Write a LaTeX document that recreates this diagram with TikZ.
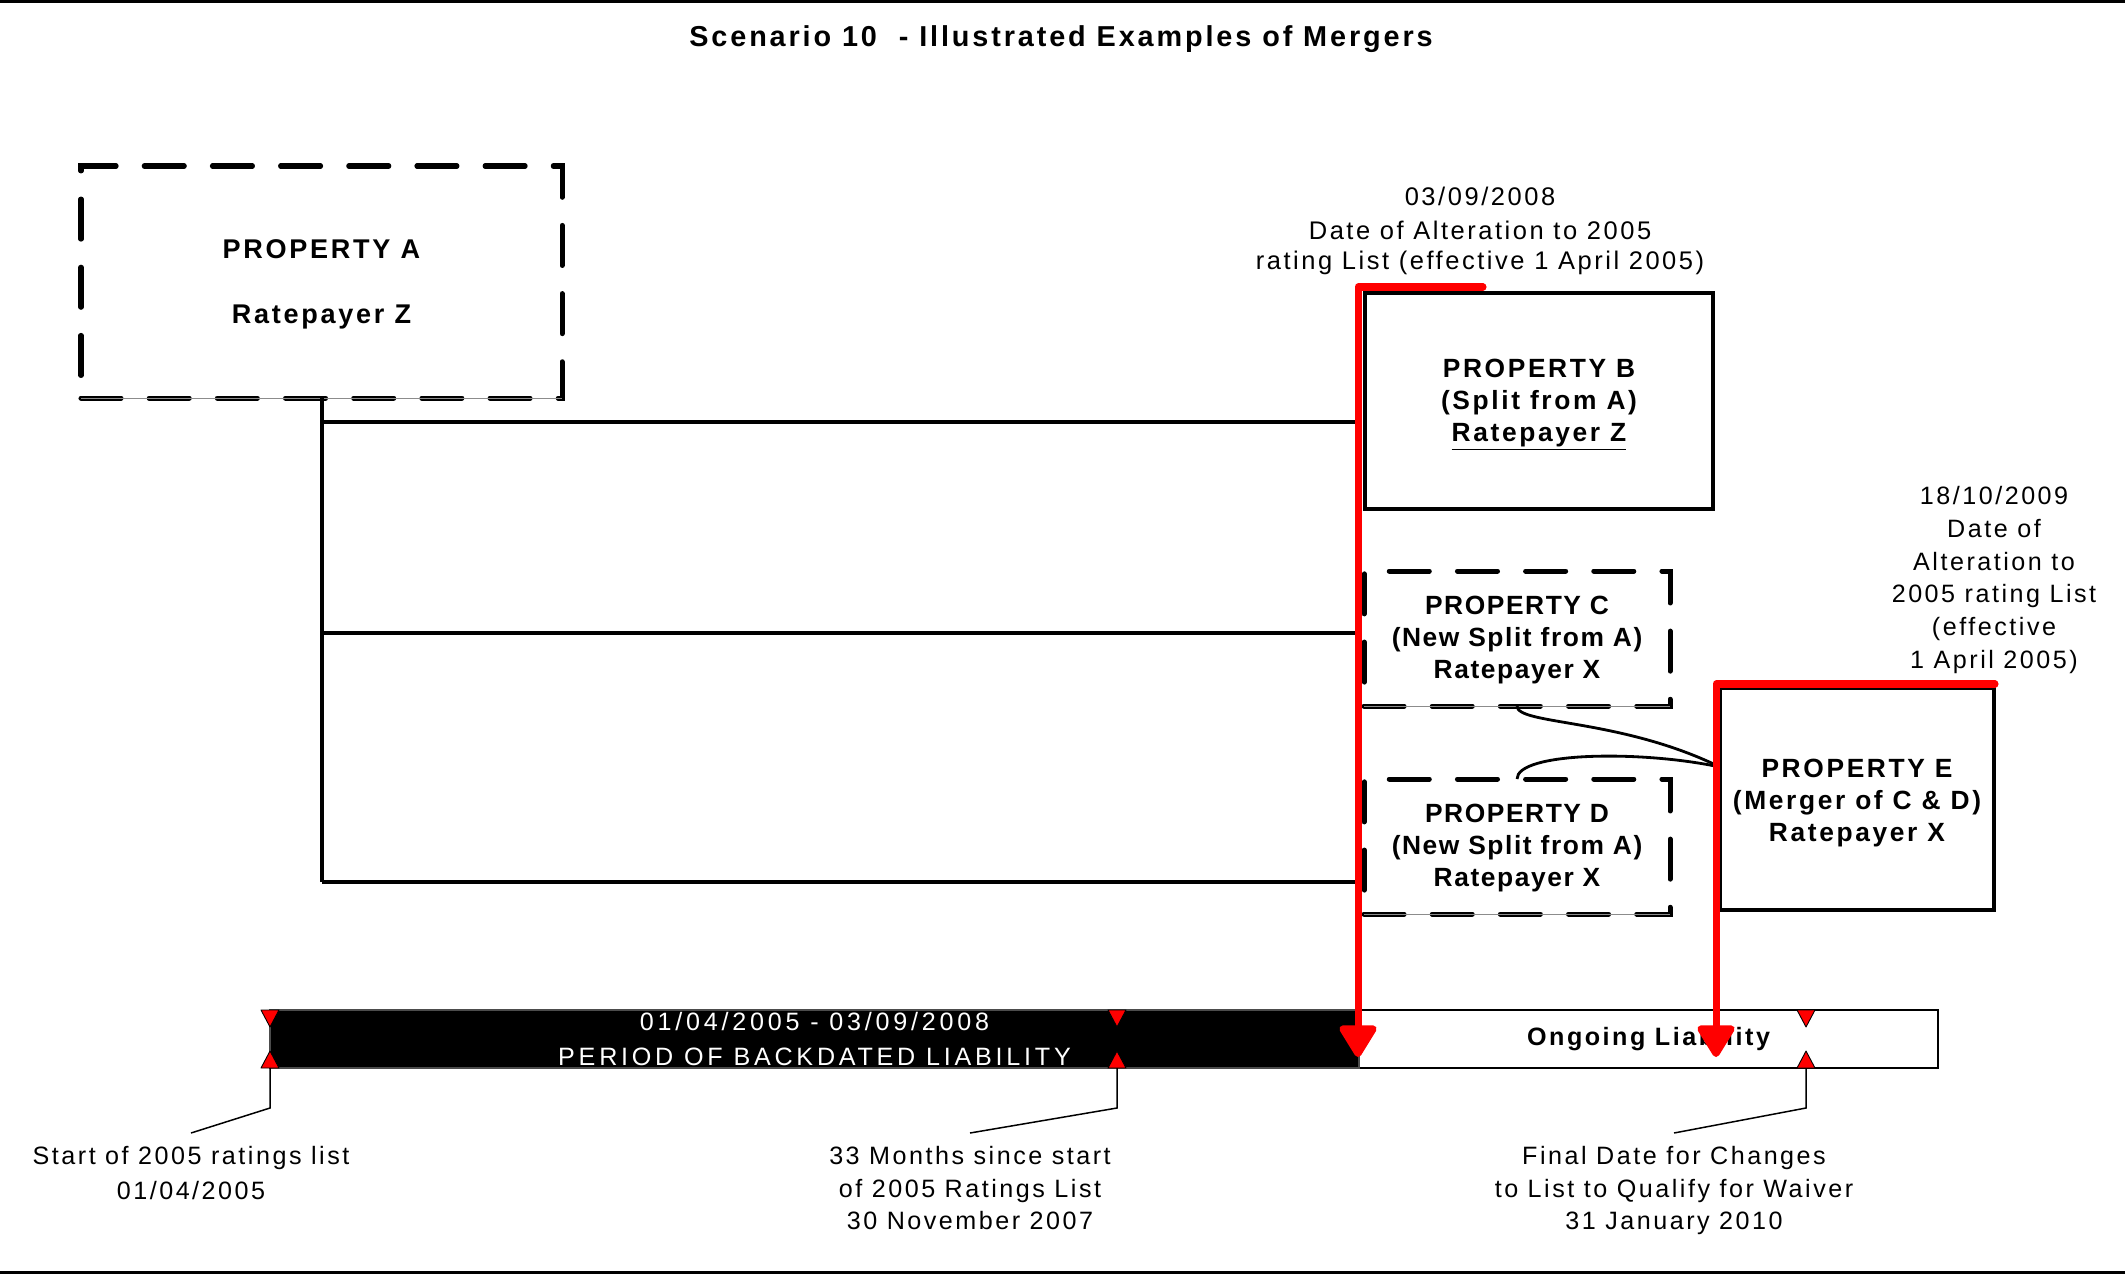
\documentclass[tikz,border=0pt]{standalone}
\usepackage{fontspec}
\setmainfont{Liberation Sans}[LetterSpace=10]
\usetikzlibrary{arrows.meta}
\newcommand{\pxl}{0.02cm}
\definecolor{alarmred}{RGB}{255,0,0}
\begin{document}
\begin{tikzpicture}[x=0.02cm,y=-0.02cm,
  reg/.style={font=\fontsize{14.3}{18.6}\selectfont, align=center, inner sep=0pt},
  bld/.style={font=\fontsize{15}{18.2}\selectfont\bfseries, align=center, inner sep=0pt},
  dashbox/.style={draw, line width=2.85pt, line cap=round, dash pattern=on 22.8pt off 16pt, outer sep=0pt, fill=white},
  solidbox/.style={draw, line width=2.28pt, outer sep=0pt, fill=white},
  boxtext/.style={bld, yshift=-2.4pt},
  link/.style={line width=2.28pt},
  curvelink/.style={line width=1.6pt},
  leader/.style={line width=0.85pt},
  edgeline/.style={draw=black!45, line width=0.4pt},
  redpath/.style={draw=alarmred, line width=4pt, line join=round, line cap=round,
    -{Triangle[width=23.3pt,length=20pt,round]}},
  marker/.style={fill=alarmred, draw=black, line width=0.5pt, line join=round},
  labeltext/.style={reg, anchor=north, inner xsep=0pt, inner ysep=7.4pt},
]
\useasboundingbox (0,0) rectangle (2125,1274);

% frame rules at top and bottom
\draw[line width=1.7pt] (0,1.5) -- (2125,1.5);
\draw[line width=1.7pt] (0,1272.5) -- (2125,1272.5);

% title
\node[bld, font=\fontsize{16.4}{20}\selectfont\bfseries] (title) at (1061,39)
  {Scenario 10\ \ - Illustrated Examples of Mergers};

% properties
\node[dashbox, minimum width={481*\pxl}, minimum height={232*\pxl}] (A) at (321.5,282) {};
\node[solidbox, minimum width={348*\pxl}, minimum height={216*\pxl}] (B) at (1539,401) {};
\node[dashbox, minimum width={306*\pxl}, minimum height={135*\pxl}] (C) at (1517,638.5) {};
\node[dashbox, minimum width={306*\pxl}, minimum height={135*\pxl}] (D) at (1517,846.5) {};
\node[solidbox, minimum width={274*\pxl}, minimum height={222*\pxl}] (E) at (1857,799) {};

\node[boxtext, yshift=1.3pt, font=\fontsize{15.4}{18.2}\selectfont\bfseries] (Atext) at (A.center)
  {PROPERTY A\\[18.8pt]Ratepayer Z};
\node[boxtext] (Btext) at (B.center) {PROPERTY B\\(Split from A)\\\underline{Ratepayer Z}};
\node[boxtext, yshift=1.5pt, font=\fontsize{15}{18.2}\selectfont\bfseries\addfontfeature{LetterSpace=6}] (Ctext) at (C.center)
  {PROPERTY C\\(New Split from A)\\Ratepayer X};
\node[boxtext, yshift=1.5pt, font=\fontsize{15}{18.2}\selectfont\bfseries\addfontfeature{LetterSpace=6}] (Dtext) at (D.center)
  {PROPERTY D\\(New Split from A)\\Ratepayer X};
\node[boxtext] (Etext) at (E.center) {PROPERTY E\\(Merger of C \& D)\\Ratepayer X};

% thin base lines under the dashed boxes
\foreach \b in {A,C,D} \draw[edgeline] (\b.south west) -- (\b.south east);

% dates of alteration
\node[reg, font=\fontsize{14.5}{17.4}\selectfont] (dateB) at (1480,231)
  {03/09/2008\\[1.8pt]Date of Alteration to 2005\\rating List (effective 1 April 2005)};
\node[reg] (dateE) at (1994,580)
  {18/10/2009\\Date of\\Alteration to\\2005 rating List\\(effective\\1 April 2005)};

% split tree from property A
\coordinate (tB) at (321.5,422);
\coordinate (tC) at (321.5,633);
\coordinate (tD) at (321.5,882);
\coordinate (jB) at (1356,422);
\coordinate (jC) at (1356,633);
\coordinate (jD) at (1356,882);
\draw[link] (A.south) -- (tD);
\draw[link] (tB) -- (jB);
\draw[link] (tC) -- (jC);
\draw[link] (tD) -- (jD);

% merger of C and D into E
\coordinate (Ein) at ([yshift=18.2pt]E.west);
\draw[curvelink] (C.south) .. controls (1517,725) and (1620,718) .. (Ein);
\draw[curvelink] (D.north) .. controls (1517,752) and (1640,750) .. (Ein);

% time line
\node[draw, line width=0.85pt, fill=white, minimum width={579*\pxl}, minimum height={58*\pxl},
  bld, font=\fontsize{14.3}{18}\selectfont\bfseries] (ongoing) at (1648.5,1039) {Ongoing Liability};
\node[fill=black, draw=black!70, line width=0.6pt, minimum width={1089*\pxl}, minimum height={58*\pxl},
  reg, font=\fontsize{14.3}{18.6}\selectfont\addfontfeature{LetterSpace=15}, text=white] (past) at (814.5,1039)
  {01/04/2005 - 03/09/2008\\[1.5pt]PERIOD OF BACKDATED LIABILITY};

% milestone markers
\foreach \mx/\mn in {270/m1,1117/m2,1806/m3} {
  \draw[marker] (\mx-9,1010) -- (\mx+9,1010) -- (\mx,1027) -- cycle;
  \draw[marker] (\mx-9,1068) -- (\mx+9,1068) -- (\mx,1051) -- cycle;
  \coordinate (\mn) at (\mx,1068);
}

% milestone labels
\node[labeltext] (lab1) at (191,1133) {Start of 2005 ratings list\\[1pt]01/04/2005};
\node[labeltext] (lab2) at (970,1133) {33 Months since start\\of 2005 Ratings List\\30 November 2007};
\node[labeltext] (lab3) at (1674,1133) {Final Date for Changes\\to List to Qualify for Waiver\\31 January 2010};
\draw[leader] (m1) -- ++(0,40) -- (lab1.north);
\draw[leader] (m2) -- ++(0,40) -- (lab2.north);
\draw[leader] (m3) -- ++(0,40) -- (lab3.north);

% alteration dates carried down to the time line
\coordinate (r1end) at (1483,287);
\coordinate (r1top) at (1358,287);
\coordinate (r1tip) at (1358,1057);
\coordinate (r2end) at (1995,684);
\coordinate (r2top) at (1716,684);
\coordinate (r2tip) at (1716,1057);
\draw[redpath] (r1end) -- (r1top) -- (r1tip);
\draw[redpath] (r2end) -- (r2top) -- (r2tip);
\end{tikzpicture}
\end{document}
